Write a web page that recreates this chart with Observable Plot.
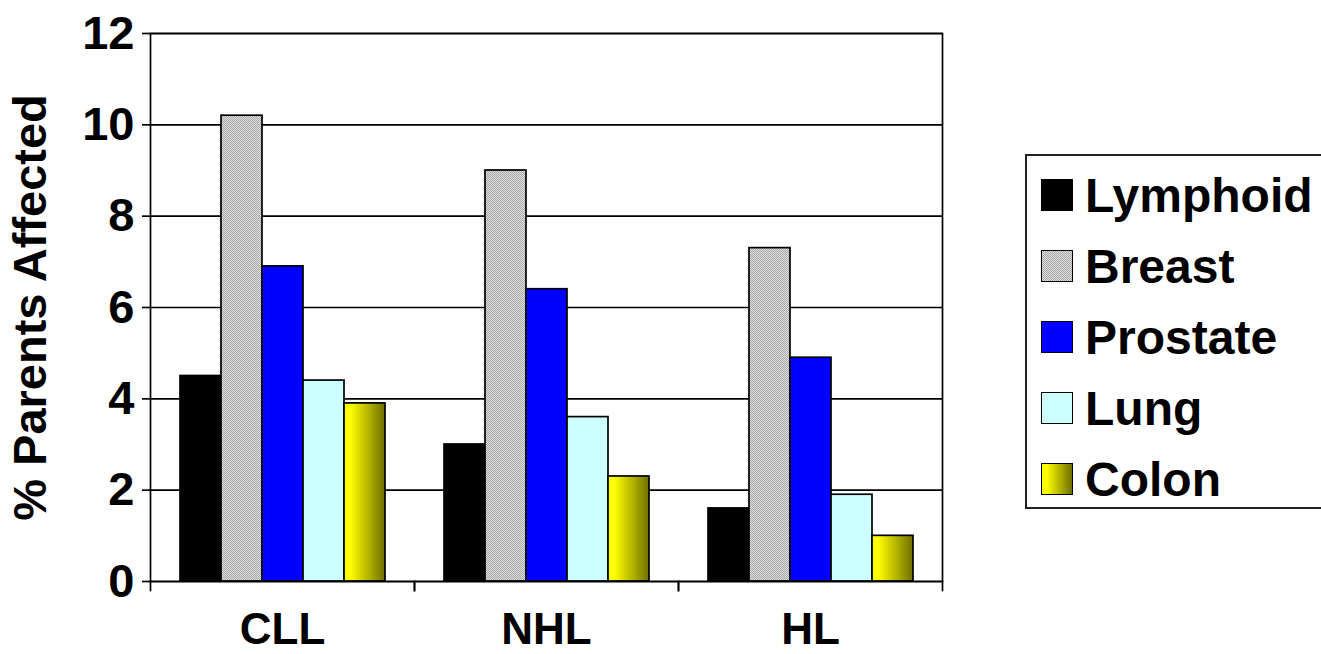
<!DOCTYPE html>
<html><head><meta charset="utf-8">
<script src="https://cdn.jsdelivr.net/npm/d3@7"></script>
<script src="https://cdn.jsdelivr.net/npm/@observablehq/plot@0.6"></script>
<style>
html,body{margin:0;padding:0;background:#fff;overflow:hidden;}
#wrap{position:relative;width:1321px;height:654px;font-family:"Liberation Sans",Arial,sans-serif;}
#chart{position:absolute;left:0;top:0;}
#legend{position:absolute;left:1025px;top:154px;width:330px;height:355px;border:2px solid #222;box-sizing:border-box;background:#fff;}
.item{position:absolute;left:14px;display:flex;align-items:center;height:60px;font-weight:bold;font-size:48px;color:#000;white-space:nowrap;}
.sw{width:32px;height:32px;border:1.5px solid #000;box-sizing:border-box;margin-right:12px;flex:none;}
</style></head>
<body><div id="wrap"><div id="chart"></div><div id="legend"></div></div>
<script>
// ---- data ----
const groups = ["CLL", "NHL", "HL"];
const series = ["Lymphoid", "Breast", "Prostate", "Lung", "Colon"];
const lymphoid = [4.5, 3.0, 1.6];
const breast   = [10.2, 9.0, 7.3];
const prostate = [6.9, 6.4, 4.9];
const lung     = [4.4, 3.6, 1.9];
const colon    = [3.9, 2.3, 1.0];
const yTicks = [0, 2, 4, 6, 8, 10, 12];
const yLabel = "% Parents Affected";

// ---- styles ----
const fills = ["#000000", "url(#breastPat)", "#0000ff", "#ccffff", "url(#colonGrad)"];
const legendBg = [
  "#000000",
  "conic-gradient(#a8a8a8 25%, #dedede 0 50%, #a8a8a8 0 75%, #dedede 0) 0 0/2px 2px",
  "#0000ff",
  "#ccffff",
  "linear-gradient(to right, #ffff00 15%, #6f6f00)"
];

const seriesValues = [lymphoid, breast, prostate, lung, colon];
const rows = [];
groups.forEach((g, i) => seriesValues.forEach((arr, j) => rows.push({group: g, series: series[j], value: arr[i]})));

const W = 1321, H = 654, mL = 150, mR = 379, mT = 33, mB = 73;
const FS = 47;
const FSX = 44;
const lineW = 1.7;

const plot = Plot.plot({
  width: W, height: H,
  marginLeft: mL, marginRight: mR, marginTop: mT, marginBottom: mB,
  style: {fontFamily: "'Liberation Sans', Arial, sans-serif", fontSize: FS + "px", fontWeight: "bold", color: "#000", background: "transparent", overflow: "visible"},
  fx: {domain: groups, padding: 0, label: null},
  x: {domain: series, paddingInner: 0, paddingOuter: 0.7, axis: null},
  y: {domain: [0, 12], label: null},
  color: {domain: series, range: fills},
  marks: [
    Plot.ruleY(yTicks, {stroke: "#000", strokeWidth: lineW}),
    Plot.barY(rows, {fx: "group", x: "series", y: "value", fill: "series", stroke: "#000", strokeWidth: lineW}),
    Plot.frame({facet: "super", stroke: "#000", strokeWidth: lineW}),
    Plot.frame({anchor: "left", insetTop: H - mT - mB, insetBottom: -9, stroke: "#000", strokeWidth: lineW}),
    Plot.frame({anchor: "right", insetTop: H - mT - mB, insetBottom: -9, stroke: "#000", strokeWidth: lineW}),
    Plot.axisY(yTicks, {tickSize: 8, tickPadding: 8, stroke: "#000", strokeWidth: lineW, fontSize: FS, fontWeight: "bold", fill: "#000",
      label: yLabel, labelArrow: "none", labelAnchor: "center", labelOffset: 138}),
    Plot.axisFx({anchor: "bottom", tickSize: 0, tickPadding: 31, fontSize: FSX, fontWeight: "bold", fill: "#000", label: null})
  ]
});

// pattern & gradient defs
const svg = d3.select(plot);
const defs = svg.insert("defs", ":first-child");
const pat = defs.append("pattern").attr("id", "breastPat").attr("patternUnits", "userSpaceOnUse").attr("width", 2).attr("height", 2);
pat.append("rect").attr("width", 2).attr("height", 2).attr("fill", "#dedede");
pat.append("rect").attr("width", 1).attr("height", 1).attr("fill", "#a8a8a8");
pat.append("rect").attr("x", 1).attr("y", 1).attr("width", 1).attr("height", 1).attr("fill", "#a8a8a8");
const grad = defs.append("linearGradient").attr("id", "colonGrad").attr("x1", 0).attr("x2", 1).attr("y1", 0).attr("y2", 0);
grad.append("stop").attr("offset", "0%").attr("stop-color", "#ffff00");
grad.append("stop").attr("offset", "15%").attr("stop-color", "#ffff00");
grad.append("stop").attr("offset", "100%").attr("stop-color", "#6f6f00");

document.getElementById("chart").appendChild(plot);

// legend
const leg = d3.select("#legend");
series.forEach((s, i) => {
  const it = leg.append("div").attr("class", "item").style("top", (9 + i * 71) + "px");
  it.append("div").attr("class", "sw").style("background", legendBg[i]);
  it.append("span").text(s);
});
</script>
</body></html>
